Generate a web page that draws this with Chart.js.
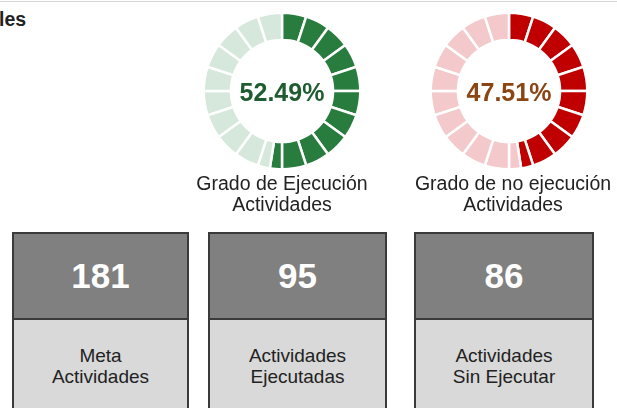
<!DOCTYPE html>
<html>
<head>
<meta charset="utf-8">
<script src="https://cdn.jsdelivr.net/npm/chart.js@4.4.0/dist/chart.umd.min.js"></script>
<style>
  html, body { margin: 0; padding: 0; background: #fff; }
  body { width: 617px; height: 408px; position: relative; overflow: hidden;
         font-family: "Liberation Sans", Arial, sans-serif; color: #222; }
  .topline { position: absolute; left: 0; top: 1px; width: 617px; height: 1px; background: #d4d4d4; }
  .title { position: absolute; left: -1px; top: 7px; font-size: 19.5px; font-weight: bold; line-height: 24px; }
  .gauge { position: absolute; top: 6px; width: 170px; height: 170px; }
  .glabel { position: absolute; top: 173px; width: 240px; margin-left: -120px; text-align: center;
            font-size: 19.5px; line-height: 21px; }
  .box { position: absolute; top: 232px; height: 200px; box-sizing: border-box;
         border: 2px solid #3a3a3a; background: #d9d9d9; }
  .box .num { height: 84px; line-height: 84px; background: #808080; border-bottom: 2px solid #3a3a3a;
              color: #fff; font-weight: bold; font-size: 35px; text-align: center; }
  .box .lab { padding-top: 25px; font-size: 19px; line-height: 21px; text-align: center; }
</style>
</head>
<body>
<div class="topline"></div>
<div class="title">les</div>
<div id="gauges"></div>
<div id="boxes"></div>
<script>
const gaugePercents = [52.49, 47.51];
const gaugeLabels = [['Grado de Ejecución', 'Actividades'], ['Grado de no ejecución', 'Actividades']];
const gaugeDark = ['#277c3e', '#c00000'];
const gaugeLight = ['#d5e8db', '#f4c9cb'];
const gaugeText = ['#1f5c30', '#8a4513'];
const segmentCount = 20;

const kpiValues = [181, 95, 86];
const kpiLabels = [['Meta', 'Actividades'], ['Actividades', 'Ejecutadas'], ['Actividades', 'Sin Ejecutar']];

// layout
const gaugeCenters = [282, 509];
const labelCenters = [282, 513];
const boxLefts = [12, 208, 414];
const boxWidths = [177, 179, 180];

// split the ring into equal blocks; the block holding the value is cut in two
function buildSegments(pct, dark, light) {
  const step = 100 / segmentCount;
  const data = [], colors = [];
  for (let i = 0; i < segmentCount; i++) {
    const a = i * step, b = a + step;
    if (b <= pct) { data.push(step); colors.push(dark); }
    else if (a >= pct) { data.push(step); colors.push(light); }
    else {
      data.push(pct - a); colors.push(dark);
      data.push(b - pct); colors.push(light);
    }
  }
  return { data, colors };
}

const centerText = {
  id: 'centerText',
  afterDraw(chart) {
    const o = chart.options.plugins.centerText;
    const arc = chart.getDatasetMeta(0).data[0];
    const ctx = chart.ctx;
    ctx.save();
    ctx.font = 'bold 25px "Liberation Sans", Arial, sans-serif';
    ctx.fillStyle = o.color;
    ctx.textAlign = 'center';
    ctx.textBaseline = 'alphabetic';
    ctx.fillText(o.text, arc.x, arc.y + 10);
    ctx.restore();
  }
};

const gaugesDiv = document.getElementById('gauges');
gaugePercents.forEach((pct, g) => {
  const wrap = document.createElement('div');
  wrap.className = 'gauge';
  wrap.style.left = (gaugeCenters[g] - 85) + 'px';
  const cv = document.createElement('canvas');
  cv.width = 170; cv.height = 170;
  wrap.appendChild(cv);
  gaugesDiv.appendChild(wrap);

  const seg = buildSegments(pct, gaugeDark[g], gaugeLight[g]);
  new Chart(cv.getContext('2d'), {
    type: 'doughnut',
    data: {
      labels: seg.data.map((v, i) => 'b' + i),
      datasets: [{
        data: seg.data,
        backgroundColor: seg.colors,
        borderColor: '#ffffff',
        borderWidth: 2.5,
        hoverBorderWidth: 2.5,
        borderJoinStyle: 'miter',
        radius: 78.3,
        cutout: '65.2%'
      }]
    },
    options: {
      responsive: false,
      animation: false,
      events: [],
      layout: { padding: 0 },
      plugins: {
        legend: { display: false },
        tooltip: { enabled: false },
        centerText: { text: pct.toFixed(2) + '%', color: gaugeText[g] }
      }
    },
    plugins: [centerText]
  });

  const lab = document.createElement('div');
  lab.className = 'glabel';
  lab.style.left = labelCenters[g] + 'px';
  lab.innerHTML = gaugeLabels[g].join('<br>');
  gaugesDiv.appendChild(lab);
});

const boxesDiv = document.getElementById('boxes');
kpiValues.forEach((v, i) => {
  const b = document.createElement('div');
  b.className = 'box';
  b.style.left = boxLefts[i] + 'px';
  b.style.width = boxWidths[i] + 'px';
  b.innerHTML = '<div class="num">' + v + '</div><div class="lab">' + kpiLabels[i].join('<br>') + '</div>';
  boxesDiv.appendChild(b);
});
</script>
</body>
</html>
